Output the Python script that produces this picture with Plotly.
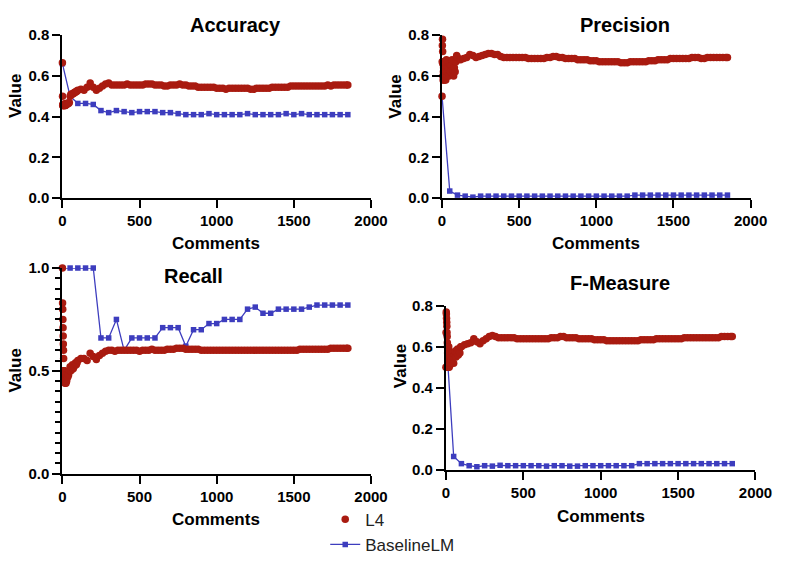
import plotly.graph_objects as go

# ---------------- data ----------------
# L4 sampled comment positions
L4_X = list(range(0, 31)) + list(range(35, 101, 5)) + list(range(120, 1841, 20)) + [1850]

ACC_L4 = [
    0.665, 0.5, 0.455, 0.46, 0.455, 0.46, 0.455, 0.46, 0.46, 0.455,
    0.455, 0.46, 0.46, 0.455, 0.46, 0.46, 0.46, 0.455, 0.46, 0.46,
    0.455, 0.46, 0.46, 0.46, 0.465, 0.46, 0.46, 0.465, 0.46, 0.465, 0.465,
    0.465, 0.465, 0.47, 0.5, 0.51, 0.51, 0.51, 0.515, 0.515, 0.52, 0.52, 0.525, 0.525, 0.53,
    0.535, 0.53, 0.545, 0.565, 0.545, 0.53, 0.54, 0.55, 0.56, 0.565,
    0.555, 0.555, 0.555, 0.555, 0.555, 0.56, 0.555, 0.555, 0.555, 0.555,
    0.555, 0.56, 0.56, 0.56, 0.555, 0.555, 0.555, 0.55, 0.55, 0.555,
    0.555, 0.555, 0.56, 0.555, 0.555, 0.55, 0.55, 0.55, 0.545, 0.545,
    0.545, 0.545, 0.545, 0.545, 0.54, 0.54, 0.54, 0.535, 0.54, 0.54,
    0.54, 0.54, 0.54, 0.54, 0.54, 0.535, 0.535, 0.54, 0.54, 0.54,
    0.54, 0.54, 0.545, 0.545, 0.545, 0.545, 0.545, 0.545, 0.55, 0.55,
    0.55, 0.55, 0.55, 0.55, 0.55, 0.55, 0.55, 0.55, 0.55, 0.55,
    0.555, 0.55, 0.555, 0.555, 0.555, 0.555, 0.555,
    0.555,
]

PRE_L4 = [
    0.5, 0.67, 0.75, 0.78, 0.72, 0.66, 0.6, 0.58, 0.6, 0.62,
    0.64, 0.6, 0.58, 0.6, 0.63, 0.65, 0.6, 0.58, 0.6, 0.62,
    0.64, 0.66, 0.62, 0.6, 0.58, 0.6, 0.63, 0.66, 0.68, 0.64, 0.62,
    0.6, 0.64, 0.6, 0.66, 0.62, 0.65, 0.68, 0.63, 0.6, 0.64, 0.62, 0.67, 0.7, 0.69,
    0.68, 0.685, 0.69, 0.705, 0.70, 0.69, 0.695, 0.70, 0.705, 0.71,
    0.71, 0.705, 0.705, 0.695, 0.69, 0.69, 0.69, 0.69, 0.69, 0.69,
    0.69, 0.69, 0.685, 0.685, 0.685, 0.685, 0.685, 0.685, 0.69, 0.69,
    0.695, 0.695, 0.69, 0.69, 0.685, 0.685, 0.685, 0.685, 0.68, 0.68,
    0.68, 0.68, 0.675, 0.675, 0.675, 0.67, 0.67, 0.67, 0.67, 0.67,
    0.67, 0.67, 0.665, 0.665, 0.665, 0.67, 0.67, 0.67, 0.67, 0.67,
    0.67, 0.675, 0.675, 0.675, 0.68, 0.68, 0.68, 0.68, 0.685, 0.685,
    0.685, 0.685, 0.685, 0.685, 0.685, 0.69, 0.69, 0.69, 0.685, 0.685,
    0.69, 0.69, 0.69, 0.69, 0.69, 0.69, 0.69,
    0.69,
]

REC_L4 = [
    1.0, 0.83, 0.8, 0.75, 0.71, 0.67, 0.63, 0.6, 0.56, 0.5,
    0.5, 0.47, 0.45, 0.46, 0.5, 0.48, 0.46, 0.44, 0.45, 0.47,
    0.49, 0.46, 0.45, 0.44, 0.46, 0.48, 0.47, 0.45, 0.46, 0.47, 0.48,
    0.47, 0.48, 0.5, 0.52, 0.5, 0.52, 0.53, 0.51, 0.52, 0.53, 0.54, 0.53, 0.54, 0.55,
    0.56, 0.56, 0.55, 0.585, 0.57, 0.555, 0.575, 0.585, 0.595, 0.6,
    0.6, 0.595, 0.6, 0.6, 0.6, 0.6, 0.6, 0.6, 0.6, 0.595,
    0.6, 0.6, 0.6, 0.605, 0.6, 0.6, 0.6, 0.6, 0.605, 0.605,
    0.605, 0.61, 0.61, 0.61, 0.605, 0.605, 0.605, 0.605, 0.605, 0.6,
    0.6, 0.6, 0.6, 0.6, 0.6, 0.6, 0.6, 0.6, 0.6, 0.6,
    0.6, 0.6, 0.6, 0.6, 0.6, 0.6, 0.6, 0.6, 0.6, 0.6,
    0.6, 0.6, 0.6, 0.6, 0.6, 0.6, 0.6, 0.6, 0.6, 0.6,
    0.6, 0.605, 0.605, 0.605, 0.605, 0.605, 0.605, 0.605, 0.605, 0.605,
    0.605, 0.61, 0.61, 0.61, 0.61, 0.61, 0.61,
    0.61,
]

FM_L4 = [
    0.5, 0.67, 0.77, 0.76, 0.74, 0.72, 0.7, 0.67, 0.65, 0.62,
    0.6, 0.57, 0.55, 0.52, 0.5, 0.52, 0.55, 0.58, 0.6, 0.56,
    0.53, 0.5, 0.52, 0.55, 0.57, 0.53, 0.51, 0.54, 0.56, 0.52, 0.55,
    0.54, 0.57, 0.55, 0.52, 0.56, 0.58, 0.55, 0.57, 0.59, 0.56, 0.58, 0.57, 0.6, 0.6,
    0.61, 0.615, 0.62, 0.64, 0.625, 0.615, 0.63, 0.64, 0.65, 0.655,
    0.65, 0.645, 0.645, 0.645, 0.645, 0.645, 0.645, 0.64, 0.64, 0.64,
    0.64, 0.64, 0.64, 0.64, 0.64, 0.64, 0.64, 0.64, 0.645, 0.645,
    0.645, 0.65, 0.65, 0.645, 0.645, 0.645, 0.645, 0.64, 0.64, 0.64,
    0.64, 0.64, 0.635, 0.635, 0.635, 0.635, 0.63, 0.63, 0.63, 0.63,
    0.63, 0.63, 0.63, 0.63, 0.63, 0.63, 0.63, 0.635, 0.635, 0.635,
    0.635, 0.635, 0.64, 0.64, 0.64, 0.64, 0.64, 0.64, 0.64, 0.64,
    0.64, 0.645, 0.645, 0.645, 0.645, 0.645, 0.645, 0.645, 0.645, 0.645,
    0.645, 0.645, 0.645, 0.65, 0.65, 0.65, 0.65,
    0.65,
]

# BaselineLM sampled every 50 comments
BASE_X = list(range(0, 1851, 50))
ACC_BASE = [0.66, 0.50, 0.465, 0.465, 0.46, 0.43, 0.42, 0.43, 0.425, 0.42,
            0.425, 0.425, 0.425, 0.42, 0.42, 0.415, 0.41, 0.41, 0.41, 0.415,
            0.41, 0.41, 0.41, 0.41, 0.415, 0.41, 0.41, 0.41, 0.41, 0.415,
            0.41, 0.415, 0.41, 0.41, 0.41, 0.41, 0.41, 0.41]
PRE_BASE = [0.50, 0.035, 0.015, 0.01, 0.005, 0.01, 0.01, 0.01, 0.01, 0.01,
            0.01, 0.01, 0.01, 0.01, 0.01, 0.01, 0.01, 0.01, 0.01, 0.01,
            0.01, 0.01, 0.01, 0.01, 0.01, 0.015, 0.015, 0.015, 0.015, 0.015,
            0.015, 0.015, 0.015, 0.015, 0.015, 0.015, 0.015, 0.015]
REC_BASE = [1.0, 1.0, 1.0, 1.0, 1.0, 0.66, 0.66, 0.75, 0.60, 0.66,
            0.66, 0.66, 0.66, 0.71, 0.71, 0.71, 0.62, 0.70, 0.70, 0.73,
            0.73, 0.75, 0.75, 0.75, 0.80, 0.81, 0.78, 0.78, 0.80, 0.80,
            0.80, 0.80, 0.81, 0.82, 0.82, 0.82, 0.82, 0.82]
FM_BASE = [0.665, 0.065, 0.03, 0.02, 0.015, 0.02, 0.018, 0.022, 0.02, 0.02,
           0.02, 0.02, 0.02, 0.018, 0.02, 0.02, 0.018, 0.018, 0.02, 0.02,
           0.02, 0.02, 0.02, 0.02, 0.02, 0.03, 0.03, 0.03, 0.03, 0.03,
           0.03, 0.03, 0.03, 0.03, 0.03, 0.03, 0.03, 0.03]

TITLES = ["Accuracy", "Precision", "Recall", "F-Measure"]
SERIES_NAMES = ["L4", "BaselineLM"]

# ---------------- layout ----------------
W, H = 790, 569
RED = "#A91B10"
BLUE = "#3D3DBE"
FONT = "Liberation Sans, Arial, sans-serif"

# panel pixel boxes: (x_left, x_right, y_top, y_bottom, y range max)
panels = [
    (60, 377, 27, 195, 0.8),
    (450, 767, 27, 195, 0.8),
    (60, 377, 267, 479, 1.0),
    (454, 772, 306, 475, 0.8),
]
title_pos = [(238, 16), (638, 16), (195, 275), (633, 282)]
xtitle_pos = [(218, 242), (608, 242), (218, 526), (613, 523)]
ytitle_pos = [(12, 90), (402, 90), (12, 373), (407, 368)]

l4_data = [ACC_L4, PRE_L4, REC_L4, FM_L4]
base_data = [ACC_BASE, PRE_BASE, REC_BASE, FM_BASE]

fig = go.Figure()
annotations = []
for i in range(4):
    xl, xr, yt, yb, ymax = panels[i]
    sfx = "" if i == 0 else str(i + 1)
    xa, ya = "x" + sfx, "y" + sfx
    fig.add_trace(go.Scatter(
        x=BASE_X, y=base_data[i], mode="lines+markers", name=SERIES_NAMES[1],
        line=dict(color=BLUE, width=1.3),
        marker=dict(symbol="square", size=5.5, color=BLUE),
        xaxis=xa, yaxis=ya, showlegend=(i == 0), legendgroup="b",
        legendrank=2, cliponaxis=False))
    fig.add_trace(go.Scatter(
        x=L4_X, y=l4_data[i], mode="markers", name=SERIES_NAMES[0],
        marker=dict(symbol="circle", size=7.5, color=RED),
        xaxis=xa, yaxis=ya, showlegend=(i == 0), legendgroup="a",
        legendrank=1, cliponaxis=False))

    axis_common = dict(
        showline=True, linecolor="black", linewidth=2,
        ticks="outside", ticklen=8, tickwidth=2, tickcolor="black",
        showgrid=False, zeroline=False,
        tickfont=dict(family=FONT, size=15, color="black", weight="bold"),
    )
    xkey = "xaxis" + sfx
    ykey = "yaxis" + sfx
    fig.layout[xkey] = dict(
        domain=[xl / W, xr / W], range=[0, 2000], tickvals=[0, 500, 1000, 1500, 2000],
        anchor=ya, **axis_common)
    if ymax == 1.0:
        yticks = dict(tickvals=[0, 0.5, 1.0], ticktext=["0.0", "0.5", "1.0"],
                      minor=dict(ticks="outside", ticklen=5, tickwidth=2,
                                 tickcolor="black", dtick=0.05, tick0=0))
    else:
        yticks = dict(tickvals=[0, 0.2, 0.4, 0.6, 0.8], tickformat=".1f")
    fig.layout[ykey] = dict(
        domain=[1 - yb / H, 1 - yt / H], range=[0, ymax], anchor=xa,
        **yticks, **axis_common)

    tx, ty = title_pos[i]
    annotations.append(dict(text=TITLES[i], x=tx / W, y=1 - ty / H, xref="paper", yref="paper",
                            showarrow=False, xanchor="center", yanchor="middle",
                            font=dict(family=FONT, size=20, color="black", weight="bold")))
    cx, cy = xtitle_pos[i]
    annotations.append(dict(text="Comments", x=cx / W, y=1 - cy / H, xref="paper", yref="paper",
                            showarrow=False, xanchor="center", yanchor="middle",
                            font=dict(family=FONT, size=17, color="black", weight="bold")))
    vx, vy = ytitle_pos[i]
    annotations.append(dict(text="Value", x=vx / W, y=1 - vy / H, xref="paper", yref="paper",
                            showarrow=False, xanchor="center", yanchor="middle", textangle=-90,
                            font=dict(family=FONT, size=17, color="black", weight="bold")))

fig.update_layout(
    width=W, height=H,
    margin=dict(l=0, r=0, t=0, b=0),
    paper_bgcolor="white", plot_bgcolor="white",
    annotations=annotations,
    showlegend=True,
    legend=dict(x=330 / W, y=1 - 508 / H, xanchor="left", yanchor="top",
                font=dict(family=FONT, size=17, color="#222"),
                tracegroupgap=0, bgcolor="rgba(0,0,0,0)", itemwidth=30),
)

fig.write_html("out.html")
